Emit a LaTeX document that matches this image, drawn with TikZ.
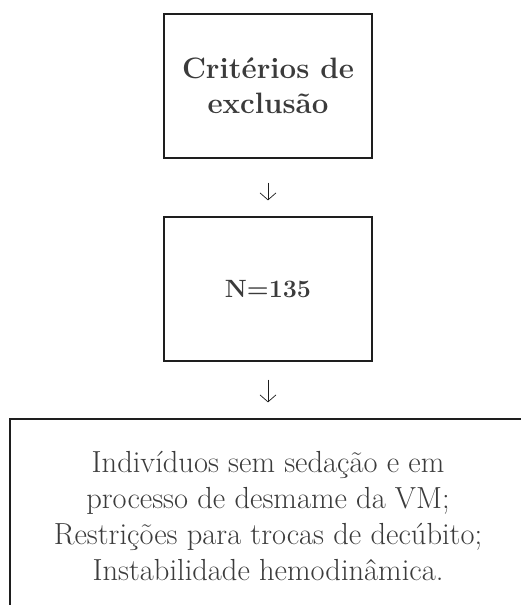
\documentclass[tikz,border=0pt]{standalone}
\usetikzlibrary{arrows.meta}
\definecolor{txt}{HTML}{3B3B3B}
\definecolor{edge}{HTML}{1E1E1E}
\tikzset{
  boxnode/.style={draw=edge, line width=1.3pt, inner sep=0pt, align=center, text=txt},
  downarrow/.style={draw=edge, line width=0.7pt, -{Straight Barb[length=7pt,width=16pt]}}
}
\begin{document}
\begin{tikzpicture}[x=1pt,y=-1pt]
\useasboundingbox (0,0) rectangle (521,605);
\clip (0,0) rectangle (521,605);
\node[boxnode, minimum width=208pt, minimum height=144pt, font=\bfseries\fontsize{29.5}{35}\selectfont] (b1) at (268,86) {Critérios de\\exclusão};
\node[boxnode, minimum width=208pt, minimum height=144pt, font=\bfseries\fontsize{25}{30}\selectfont] (b2) at (268,289) {N=135};
\node[boxnode, minimum width=516pt, minimum height=194pt, font=\fontsize{30.5}{36}\selectfont] (b3) at (268,516) {Indivíduos sem sedação e em\\processo de desmame da VM;\\Restrições para trocas de decúbito;\\Instabilidade hemodinâmica.};
\draw[downarrow, shorten <=24pt, shorten >=16pt] (b1.south) -- (b2.north);
\draw[downarrow, shorten <=18pt, shorten >=16pt] (b2.south) -- (b3.north);
\end{tikzpicture}
\end{document}
